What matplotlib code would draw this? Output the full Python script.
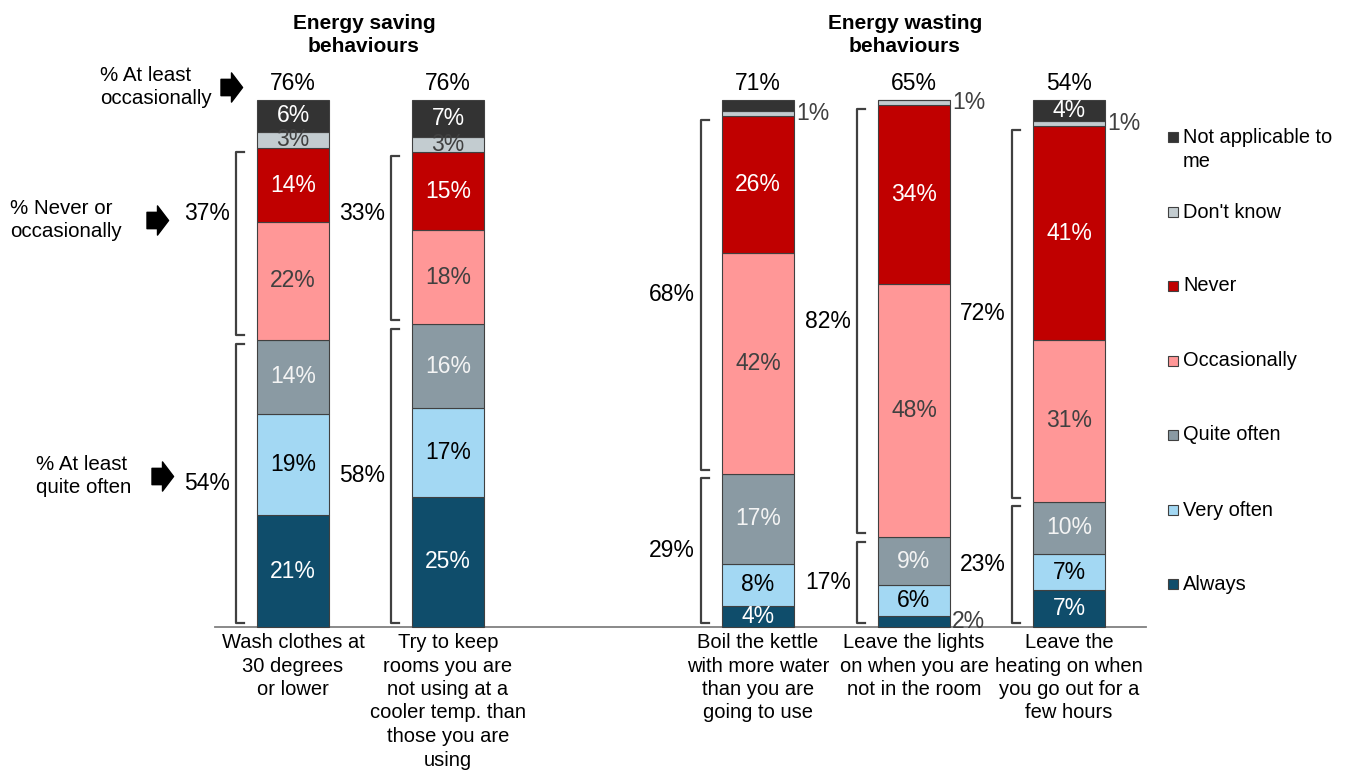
import matplotlib
matplotlib.use("Agg")
import matplotlib.pyplot as plt
import numpy as np
from matplotlib.path import Path

plt.rcParams['font.family'] = ['Liberation Sans', 'DejaVu Sans']

# data
categories = ["Wash clothes at\n30 degrees\nor lower",
              "Try to keep\nrooms you are\nnot using at a\ncooler temp. than\nthose you are\nusing",
              "Boil the kettle\nwith more water\nthan you are\ngoing to use",
              "Leave the lights\non when you are\nnot in the room",
              "Leave the\nheating on when\nyou go out for a\nfew hours"]
series = ["Always", "Very often", "Quite often", "Occasionally", "Never",
          "Don't know", "Not applicable to\nme"]
always = [21, 25, 4, 2, 7]
very_often = [19, 17, 8, 6, 7]
quite_often = [14, 16, 17, 9, 10]
occasionally = [22, 18, 42, 48, 31]
never = [14, 15, 26, 34, 41]
dont_know = [3, 3, 1, 1, 1]
not_applicable = [6, 7, 2, 0, 4]
at_least_occasionally = [76, 76, 71, 65, 54]
never_or_occasionally = [37, 33, 68, 82, 72]
at_least_quite_often = [54, 58, 29, 17, 23]

colors = ['#0f4d6b', '#a3d8f3', '#8a9aa3', '#ff9797', '#c00000', '#c3ccd0', '#333333']
txt_colors = ['white', 'black', '#f4f4f4', '#404040', 'white', '#404040', 'white']

# layout (pixels)
W, H = 1349, 776
base_px = 627
k = 5.27  # pixels per percent
xpos = [293, 448, 758, 914, 1069]
bw = 72
pct_fs = 16.5

def py(ypix):
    return (base_px - ypix) / k

fig = plt.figure(figsize=(W / 100, H / 100), dpi=100)
ax = fig.add_axes([0, 0, 1, 1])
ax.set_xlim(0, W)
ax.set_ylim(py(H), py(0))
ax.axis('off')

data = np.array([always, very_often, quite_often, occasionally, never,
                 dont_know, not_applicable], dtype=float)
norm = data / data.sum(axis=0) * 100

bottom = np.zeros(len(categories))
for i in range(len(series)):
    ax.bar(xpos, norm[i], bw, bottom=bottom, color=colors[i],
           edgecolor='#404040', linewidth=0.8, zorder=2)
    for j, x in enumerate(xpos):
        v = data[i, j]
        yc = bottom[j] + norm[i, j] / 2
        if v >= 3:
            ax.text(x, yc, f"{int(v)}%", ha='center', va='center',
                    fontsize=pct_fs, color=txt_colors[i], zorder=3)
        elif v > 0 and i != 6:
            ax.text(x + bw / 2 + 2, yc, f"{int(v)}%", ha='left', va='center',
                    fontsize=pct_fs, color='#404040', zorder=3)
    bottom += norm[i]

# baseline
ax.plot([215, 1146], [0, 0], color='#808080', lw=1.3, zorder=1)

# top totals
for x, v in zip(xpos, at_least_occasionally):
    ax.text(x, py(84), f"{v}%", ha='center', va='center', fontsize=pct_fs)

# brackets
cum_quite = norm[:3].sum(axis=0)
cum_never = norm[:5].sum(axis=0)
gap = 0.8
for j, x in enumerate(xpos):
    bx = x - bw / 2 - 21
    spans = [(gap, cum_quite[j] - gap, at_least_quite_often[j]),
             (cum_quite[j] + gap, cum_never[j] - gap, never_or_occasionally[j])]
    for n, (y0, y1, lab) in enumerate(spans):
        ax.plot([bx + 8, bx, bx, bx + 8], [y0, y0, y1, y1],
                color='#404040', lw=1.6, zorder=1)
        yl = (y0 + y1) / 2
        if j < 2 and n == 1:
            yl = py(214)
        ax.text(bx - 6, yl, f"{lab}%", ha='right', va='center', fontsize=pct_fs)

# left notes with arrows
arrow = Path([(-0.36, -0.28), (0.0, -0.28), (0.0, -0.5), (0.38, 0.0),
              (0.0, 0.5), (0.0, 0.28), (-0.36, 0.28), (-0.36, -0.28)],
             [Path.MOVETO] + [Path.LINETO] * 6 + [Path.CLOSEPOLY])
notes = [("% At least\noccasionally", 100, 87, 231),
         ("% Never or\noccasionally", 10, 220, 157),
         ("% At least\nquite often", 36, 476, 162)]
for txt, tx, ty, ax_x in notes:
    ax.text(tx, py(ty), txt, ha='left', va='center', fontsize=14.8,
            linespacing=1.32)
    ax.plot(ax_x, py(ty), marker=arrow, markersize=21, color='black',
            linestyle='none')

# category labels
for x, c in zip(xpos, categories):
    ax.text(x, py(633), c, ha='center', va='top', fontsize=14.5,
            linespacing=1.3)

# group titles
for x, t in [(364, "Energy saving\nbehaviours"), (905, "Energy wasting\nbehaviours")]:
    ax.text(x, py(35), t, ha='center', va='center', fontsize=15,
            fontweight='bold', linespacing=1.32,
            family=['Liberation Sans Narrow', 'Liberation Sans'])

# legend (top to bottom)
leg_y = [137, 212, 286, 361, 435, 510, 584]
for i, yy in zip(range(len(series) - 1, -1, -1), leg_y):
    ax.plot(1173, py(yy), marker='s', markersize=7.5, color=colors[i],
            markeredgecolor='#404040', markeredgewidth=0.8, linestyle='none')
    if '\n' in series[i]:
        ax.text(1183, py(yy - 9), series[i], ha='left', va='top',
                fontsize=14.4, linespacing=1.35)
    else:
        ax.text(1183, py(yy), series[i], ha='left', va='center', fontsize=14.4)

fig.savefig('out.png', dpi=100)
